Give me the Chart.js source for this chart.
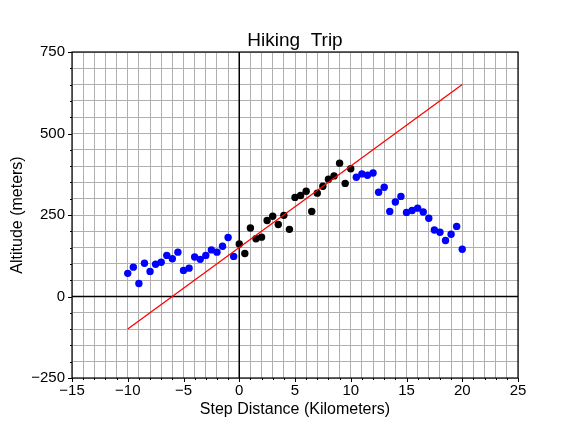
<!DOCTYPE html>
<html>
<head>
<meta charset="utf-8">
<script src="https://cdn.jsdelivr.net/npm/chart.js@4/dist/chart.umd.min.js"></script>
<style>
  html, body { margin: 0; padding: 0; background: #fff; }
  #wrap { width: 576px; height: 432px; position: relative; }
</style>
</head>
<body>
<div id="wrap"><canvas id="hikeChart"></canvas></div>
<script>
// step distance (km) and altitude (m)
const startX = [-10, -9.5, -9, -8.5, -8, -7.5, -7, -6.5, -6, -5.5, -5, -4.5, -4, -3.5, -3, -2.5, -2, -1.5, -1, -0.5];
const startY = [71, 90, 40, 102, 77, 99, 105, 126, 116, 136, 80, 87, 121, 114, 126, 143, 136, 154, 181, 123];
const midX = [0, 0.5, 1, 1.5, 2, 2.5, 3, 3.5, 4, 4.5, 5, 5.5, 6, 6.5, 7, 7.5, 8, 8.5, 9, 9.5, 10];
const midY = [161, 132, 210, 177, 182, 233, 246, 221, 249, 206, 304, 310, 323, 261, 317, 338, 360, 370, 409, 347, 392];
const endX = [10.5, 11, 11.5, 12, 12.5, 13, 13.5, 14, 14.5, 15, 15.5, 16, 16.5, 17, 17.5, 18, 18.5, 19, 19.5, 20];
const endY = [366, 376, 372, 379, 320, 335, 261, 290, 307, 258, 264, 271, 259, 240, 204, 197, 172, 191, 215, 145];
// fitted line end points
const fitX = [-10, 20];
const fitY = [-100, 650];
const titleText = 'Hiking  Trip';

function pairs(xs, ys) {
  return xs.map(function (v, i) { return { x: v, y: ys[i] }; });
}
function minus(v) {
  return String(v).replace('-', '\u2212');
}

Chart.defaults.font.family = '"Liberation Sans", Arial, sans-serif';
Chart.defaults.color = '#000';

// zero lines over the grid, tick marks, frame and a title centred on the plot
const tickFrame = {
  id: 'tickFrame',
  beforeDatasetsDraw: function (chart) {
    const ctx = chart.ctx;
    const a = chart.chartArea;
    const x0 = chart.scales.x.getPixelForValue(0);
    const y0 = chart.scales.y.getPixelForValue(0);
    ctx.save();
    ctx.strokeStyle = '#000';
    ctx.lineWidth = 1.5;
    ctx.beginPath();
    ctx.moveTo(x0, a.top);
    ctx.lineTo(x0, a.bottom);
    ctx.moveTo(a.left, y0);
    ctx.lineTo(a.right, y0);
    ctx.stroke();
    ctx.restore();
  },
  afterDraw: function (chart) {
    const ctx = chart.ctx;
    const a = chart.chartArea;
    const xs = chart.scales.x;
    const ys = chart.scales.y;
    ctx.save();
    ctx.strokeStyle = '#000';
    ctx.lineWidth = 1;
    ctx.beginPath();
    xs.ticks.forEach(function (t) {
      const px = Math.round(xs.getPixelForValue(t.value)) + 0.5;
      const len = t.value % 5 === 0 ? 4 : 2;
      ctx.moveTo(px, a.bottom);
      ctx.lineTo(px, a.bottom + len);
    });
    ys.ticks.forEach(function (t) {
      const py = Math.round(ys.getPixelForValue(t.value)) + 0.5;
      const len = t.value % 250 === 0 ? 4 : 2;
      ctx.moveTo(a.left, py);
      ctx.lineTo(a.left - len, py);
    });
    ctx.stroke();
    ctx.lineWidth = 1.2;
    ctx.strokeRect(a.left, a.top, a.right - a.left, a.bottom - a.top);

    ctx.fillStyle = '#000';
    ctx.font = '19px "Liberation Sans", Arial, sans-serif';
    ctx.textAlign = 'center';
    ctx.textBaseline = 'alphabetic';
    ctx.fillText(titleText, (a.left + a.right) / 2, a.top - 6);
    ctx.restore();
  }
};

const ctx = document.getElementById('hikeChart').getContext('2d');
new Chart(ctx, {
  type: 'scatter',
  data: {
    datasets: [
      {
        type: 'line',
        data: pairs(fitX, fitY),
        borderColor: '#ff0000',
        borderWidth: 1.3,
        pointRadius: 0,
        fill: false
      },
      {
        data: pairs(startX, startY),
        backgroundColor: '#0000ff',
        borderColor: '#0000ff',
        pointRadius: 3.7,
        borderWidth: 0
      },
      {
        data: pairs(midX, midY),
        backgroundColor: '#000000',
        borderColor: '#000000',
        pointRadius: 3.7,
        borderWidth: 0
      },
      {
        data: pairs(endX, endY),
        backgroundColor: '#0000ff',
        borderColor: '#0000ff',
        pointRadius: 3.7,
        borderWidth: 0
      }
    ]
  },
  options: {
    responsive: true,
    maintainAspectRatio: false,
    animation: false,
    layout: {
      padding: { top: 52, right: 58, bottom: 0, left: 0 }
    },
    plugins: {
      legend: { display: false },
      tooltip: { enabled: false },
      title: { display: false }
    },
    scales: {
      x: {
        type: 'linear',
        min: -15,
        max: 25,
        afterFit: function (scale) { scale.height = 54; },
        border: { display: false },
        grid: {
          drawTicks: false,
          color: '#b0b0b0',
          lineWidth: 1
        },
        ticks: {
          stepSize: 1,
          autoSkip: false,
          maxRotation: 0,
          padding: 4,
          font: { size: 15 },
          callback: function (v) { return v % 5 === 0 ? minus(v) : ''; }
        },
        title: {
          display: true,
          text: 'Step Distance (Kilometers)',
          font: { size: 16 },
          padding: { top: 0, bottom: 12.4 }
        }
      },
      y: {
        type: 'linear',
        min: -250,
        max: 750,
        afterFit: function (scale) { scale.width = 72; },
        border: { display: false },
        grid: {
          drawTicks: false,
          color: '#b0b0b0',
          lineWidth: 1
        },
        ticks: {
          stepSize: 50,
          autoSkip: false,
          padding: 7,
          font: { size: 15 },
          callback: function (v) { return v % 250 === 0 ? minus(v) : ''; }
        },
        title: {
          display: true,
          text: 'Altitude (meters)',
          font: { size: 16 },
          padding: { top: 7.5, bottom: 0 }
        }
      }
    }
  },
  plugins: [tickFrame]
});
</script>
</body>
</html>
